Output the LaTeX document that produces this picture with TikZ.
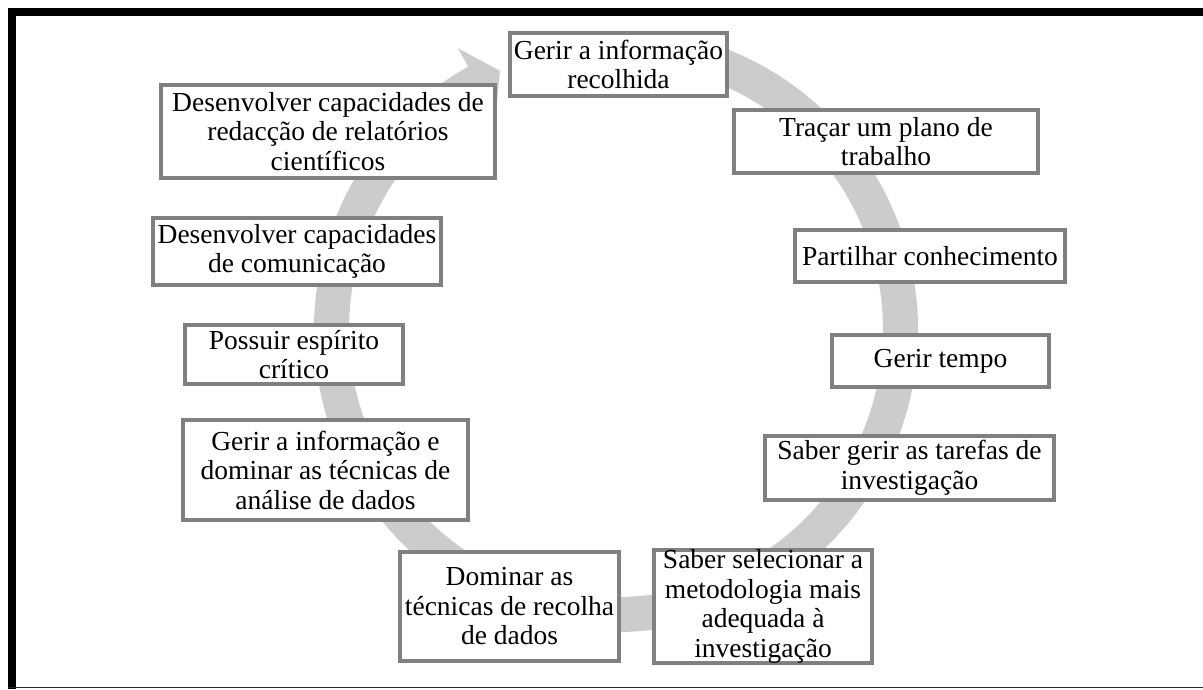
\documentclass[tikz,border=0pt]{standalone}
\usepackage{fontspec}
\setmainfont{Liberation Serif}
\colorlet{ringGray}{black!20}
\colorlet{frameGray}{black!50}
\tikzset{skillbox/.style={draw=frameGray,line width=4pt,fill=white,align=center,inner sep=0pt,
  font=\fontsize{27.5}{29.5}\selectfont}}
\NewDocumentCommand\SkillBox{mmmmmm}%
{%
\node[skillbox,minimum width=#4pt,minimum height=#5pt] (#1) at ({#2},{#3}) {#6};%
}

\begin{document}
\begin{tikzpicture}[x=1pt,y=1pt]
\useasboundingbox (0,0) rectangle (1203,689);
% frame
\fill[black] (8,681) rectangle (1203,673);
\fill[black] (8,681) rectangle (16,0);
\draw[line width=1.5pt,black!85] (8,1.5) -- (1203,1.5);
% ring arrow
\begin{scope}[shift={(616,359)}]
\fill[ringGray] (75:302) arc[start angle=75,end angle=-240.7,radius=302]
  -- (-240.7:323) -- (-245.9:284) -- (-240.7:246) -- (-240.7:267)
  arc[start angle=-240.7,end angle=75,radius=267] -- cycle;
\end{scope}
% boxes
\SkillBox{info}{618.5}{624.5}{217}{63}{Gerir a informação\\recolhida}
\SkillBox{plano}{886}{547.5}{304}{63}{Traçar um plano de\\trabalho}
\SkillBox{partilhar}{930}{433}{270}{52}{Partilhar conhecimento}
\SkillBox{tempo}{940.5}{328}{217}{52}{Gerir tempo}
\SkillBox{tarefas}{909.5}{221}{289}{64}{Saber gerir as tarefas de\\investigação}
\SkillBox{metodologia}{763}{82.5}{218}{109}{Saber selecionar a\\metodologia mais\\adequada à\\investigação}
\SkillBox{recolha}{509.5}{82.5}{219}{109}{Dominar as\\técnicas de recolha\\de dados}
\SkillBox{analise}{325.5}{219}{285}{100}{Gerir a informação e\\dominar as técnicas de\\análise de dados}
\SkillBox{critico}{294}{334.5}{218}{59}{Possuir espírito\\crítico}
\SkillBox{comunicacao}{297}{437.5}{288}{67}{Desenvolver capacidades\\de comunicação}
\SkillBox{redaccao}{328}{557.5}{334}{93}{Desenvolver capacidades de\\redacção de relatórios\\científicos}
\end{tikzpicture}
\end{document}
